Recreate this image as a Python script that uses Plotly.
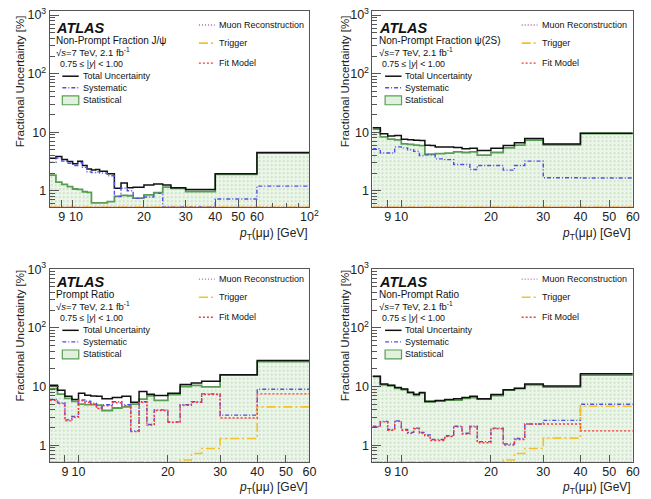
import numpy as np
import plotly.graph_objects as go

# ---------------- data ----------------
EDGES_JPSI = [8, 8.5, 9, 9.5, 10, 10.5, 11, 11.5, 12, 12.5, 13, 14, 15, 16, 17, 18, 20, 22, 24, 26, 30, 40, 60, 100]
EDGES_PSI = [8, 8.5, 9, 9.5, 10, 10.5, 11, 11.5, 12, 12.5, 13, 14, 15, 16, 17, 18, 20, 22, 24, 26, 30, 40, 60]

X_TICKS_JPSI = [9, 10, 20, 30, 40, 50, 60, 100]
X_TICKTEXT_JPSI = ["9", "", "20", "30", "40", "50", "60", "10<sup>2</sup>"]  # "10" drawn separately (offset, as in ROOT)
X_TICKS_PSI = [9, 10, 20, 30, 40, 50, 60]
X_TICKTEXT_PSI = ["9", "10", "20", "30", "40", "50", "60"]
Y_TICKS = [1, 10, 100, 1000]
Y_TICKTEXT = ["1", "10", "10<sup>2</sup>", "10<sup>3</sup>"]

# Panel 1: Non-Prompt Fraction J/psi (23 bins)
NPF_JPSI_TOTAL = [3.6, 3.85, 3.4, 3.15, 2.9, 3.2, 2.7, 2.35, 2.25, 2.3, 2.15, 1.95, 1.1, 1.36, 1.12, 1.15, 1.25, 1.3, 1.25, 1.12, 1.05, 1.95, 4.5]
NPF_JPSI_STAT = [1.84, 1.4, 1.28, 1.17, 1.07, 1.05, 0.96, 0.94, 0.62, 0.62, 0.62, 0.65, 0.8, 0.83, 0.82, 0.75, 0.85, 0.93, 1.15, 1.1, 0.97, 1.9, 4.4]
NPF_JPSI_SYST = [3.05, 3.6, 3.2, 2.95, 2.7, 3.0, 2.5, 2.1, 2.05, 2.1, 2.0, 1.8, 0.8, 1.1, 1.0, 0.74, 0.78, 0.9, 0.53, 0.53, 0.53, 0.72, 1.2]
NPF_JPSI_MUON = [0.3] * 23
NPF_JPSI_TRIG = [0.3] * 23
NPF_JPSI_FIT = [0.3] * 23

# Panel 2: Non-Prompt Fraction psi(2S) (22 bins)
NPF_PSI_TOTAL = [11.9, 9.4, 8.6, 8.8, 7.6, 7.4, 7.3, 7.2, 6.0, 5.9, 5.6, 5.6, 5.45, 5.2, 5.3, 4.85, 5.3, 5.9, 6.6, 7.8, 6.3, 9.6]
NPF_PSI_STAT = [11.3, 8.3, 7.6, 7.4, 6.3, 6.2, 6.0, 5.9, 4.2, 4.2, 4.3, 4.4, 4.6, 4.5, 4.6, 4.05, 4.5, 5.4, 6.0, 7.3, 6.1, 9.5]
NPF_PSI_SYST = [5.2, 4.4, 4.4, 5.6, 5.4, 5.0, 4.7, 4.0, 4.1, 4.1, 3.5, 3.4, 2.8, 2.8, 2.3, 2.7, 2.7, 2.25, 2.7, 3.2, 1.67, 1.65]
NPF_PSI_MUON = [0.3] * 22
NPF_PSI_TRIG = [0.3] * 22
NPF_PSI_FIT = [0.3] * 22

# Panel 3: Prompt Ratio (22 bins)
PR_TOTAL = [10.5, 8.6, 6.8, 6.0, 7.7, 7.1, 6.9, 6.8, 6.2, 6.2, 6.5, 6.8, 5.4, 8.2, 7.4, 7.0, 7.7, 10.8, 11.5, 12.3, 15.9, 27.7]
PR_STAT = [9.2, 7.4, 6.3, 5.6, 5.0, 4.9, 4.9, 4.8, 3.9, 3.9, 4.3, 4.5, 5.0, 6.1, 6.9, 5.8, 7.3, 10.0, 10.5, 9.9, 15.6, 26.5]
PR_SYST = [6.0, 5.3, 2.7, 3.1, 5.9, 5.6, 5.2, 4.3, 4.9, 4.9, 5.5, 4.9, 1.75, 5.5, 2.25, 4.0, 2.5, 4.9, 5.5, 7.5, 3.25, 9.0]
PR_MUON = [0.3] * 22
PR_TRIG = [0.3] * 17 + [0.56, 0.72, 0.88, 1.3, 4.5]
PR_FIT = [5.8, 5.1, 2.6, 3.0, 5.7, 5.4, 5.0, 4.2, 4.7, 4.7, 5.3, 4.7, 1.7, 5.4, 2.2, 3.9, 2.45, 4.8, 5.4, 7.3, 2.9, 7.5]

# Panel 4: Non-Prompt Ratio (22 bins)
NPR_TOTAL = [15.0, 11.0, 10.5, 9.6, 9.1, 8.0, 7.4, 7.9, 5.6, 5.6, 5.8, 6.0, 6.2, 6.5, 6.8, 6.2, 7.3, 8.8, 9.3, 11.0, 10.2, 16.5]
NPR_STAT = [14.8, 10.7, 10.3, 9.3, 8.9, 7.8, 7.1, 7.7, 5.4, 5.45, 5.65, 5.85, 5.85, 6.3, 6.5, 6.1, 7.0, 8.7, 9.2, 10.7, 9.8, 15.7]
NPR_SYST = [2.1, 2.55, 1.85, 2.6, 1.85, 1.65, 1.95, 1.65, 1.5, 1.25, 1.25, 1.45, 2.1, 1.6, 2.1, 1.15, 1.95, 1.05, 1.3, 2.3, 2.65, 5.0]
NPR_MUON = [0.3] * 22
NPR_TRIG = [0.3] * 17 + [0.56, 0.72, 0.88, 1.32, 4.6]
NPR_FIT = [2.05, 2.5, 1.8, 2.55, 1.8, 1.6, 1.9, 1.6, 1.45, 1.2, 1.2, 1.4, 2.05, 1.55, 2.05, 1.1, 1.9, 1.0, 1.25, 2.3, 2.3, 1.75]

PANEL_TITLES = ["Non-Prompt Fraction J/ψ", "Non-Prompt Fraction ψ(2S)", "Prompt Ratio", "Non-Prompt Ratio"]

PANELS = [
    dict(edges=EDGES_JPSI, xt=X_TICKS_JPSI, xtt=X_TICKTEXT_JPSI, total=NPF_JPSI_TOTAL, stat=NPF_JPSI_STAT,
         syst=NPF_JPSI_SYST, muon=NPF_JPSI_MUON, trig=NPF_JPSI_TRIG, fit=NPF_JPSI_FIT),
    dict(edges=EDGES_PSI, xt=X_TICKS_PSI, xtt=X_TICKTEXT_PSI, total=NPF_PSI_TOTAL, stat=NPF_PSI_STAT,
         syst=NPF_PSI_SYST, muon=NPF_PSI_MUON, trig=NPF_PSI_TRIG, fit=NPF_PSI_FIT),
    dict(edges=EDGES_PSI, xt=X_TICKS_PSI, xtt=X_TICKTEXT_PSI, total=PR_TOTAL, stat=PR_STAT,
         syst=PR_SYST, muon=PR_MUON, trig=PR_TRIG, fit=PR_FIT),
    dict(edges=EDGES_PSI, xt=X_TICKS_PSI, xtt=X_TICKTEXT_PSI, total=NPR_TOTAL, stat=NPR_STAT,
         syst=NPR_SYST, muon=NPR_MUON, trig=NPR_TRIG, fit=NPR_FIT),
]

# ---------------- styling / layout ----------------
W, H = 651, 499
FONT = "Liberation Sans, Arial, Helvetica, sans-serif"
FRAMES = [(50.5, 314.3, 3.3, 202.7), (378.3, 642.7, 3.3, 202.7),
          (50.5, 314.3, 265.0, 461.7), (378.3, 642.7, 265.0, 461.7)]
YRANGES = [[-0.286, 3.066], [-0.286, 3.066], [-0.292, 3.008], [-0.292, 3.008]]

C_TOTAL = "#111111"
C_STAT = "#5a9e56"
C_FILL = "#e2f0de"
C_SYST = "#5050e6"
C_MUON = "#b25cb5"
C_TRIG = "#f2c12e"
C_FIT = "#ff3535"
D_SYST = "4px,2px,1px,2px"
D_MUON = "1px,2px"
D_TRIG = "9px,3px,2px,3px"
D_FIT = "2px,2px"

fig = go.Figure()
layout = dict(width=W, height=H, margin=dict(l=0, r=0, t=0, b=0),
              paper_bgcolor="white", plot_bgcolor="white", showlegend=False,
              font=dict(family=FONT, color="#222"))
annotations, shapes = [], []

Y_MINOR = [m * 10 ** d for d in range(-1, 3) for m in range(2, 10) if m * 10 ** d > 0.5]

for i, (p, fr, yr) in enumerate(zip(PANELS, FRAMES, YRANGES)):
    n = "" if i == 0 else str(i + 1)
    xl, xr, yt, yb = fr
    xa, ya = "x" + n, "y" + n
    edges = p["edges"]
    ymin_val = 10 ** yr[0] * 1.005

    def step(vals):
        v = list(np.maximum(np.array(vals, dtype=float), ymin_val))
        return list(edges), v + [v[-1]]

    # statistical fill
    sx, sy = step(p["stat"])
    fig.add_trace(go.Scatter(x=sx + [edges[-1], edges[0]], y=sy + [0.05, 0.05], mode="lines",
                             line=dict(width=0, shape="hv"), fill="toself", fillcolor=C_FILL,
                             fillpattern=dict(shape=".", bgcolor="#edf6ea", fgcolor="#a9cfa3", size=4, solidity=0.25),
                             xaxis=xa, yaxis=ya, hoverinfo="skip"))
    fig.add_trace(go.Scatter(x=sx, y=sy, mode="lines", line=dict(color=C_STAT, width=1.8, shape="hv"),
                             xaxis=xa, yaxis=ya))
    for key, col, dash, wd in [("total", C_TOTAL, "solid", 1.5), ("syst", C_SYST, D_SYST, 1.4),
                               ("muon", C_MUON, D_MUON, 1.4), ("trig", C_TRIG, D_TRIG, 1.6),
                               ("fit", C_FIT, D_FIT, 1.4)]:
        x, y = step(p[key])
        fig.add_trace(go.Scatter(x=x, y=y, mode="lines", line=dict(color=col, width=wd, dash=dash, shape="hv"),
                                 xaxis=xa, yaxis=ya))

    xmax = edges[-1]
    layout["xaxis" + n] = dict(type="log", range=[np.log10(8), np.log10(xmax)],
                               domain=[xl / W, xr / W], anchor=ya,
                               showline=True, mirror=True, linecolor="#555", linewidth=1,
                               showgrid=False, zeroline=False, tickangle=0, ticklabelstandoff=-2,
                               tickmode="array", tickvals=p["xt"], ticktext=p["xtt"],
                               ticks="inside", ticklen=7, tickcolor="#555",
                               minor=dict(tickmode="array", tickvals=[8] + [v for v in [70, 80, 90] if v < xmax],
                                          ticks="inside", ticklen=4, tickcolor="#555"),
                               tickfont=dict(size=12.5, family=FONT, color="#222"))
    layout["yaxis" + n] = dict(type="log", range=yr, domain=[1 - yb / H, 1 - yt / H], anchor=xa,
                               showline=True, mirror=True, linecolor="#555", linewidth=1,
                               showgrid=False, zeroline=False,
                               tickmode="array", tickvals=Y_TICKS, ticktext=Y_TICKTEXT,
                               ticks="inside", ticklen=9, tickcolor="#555",
                               minor=dict(tickmode="array", tickvals=Y_MINOR, ticks="inside", ticklen=5,
                                          tickcolor="#555"),
                               tickfont=dict(size=12.5, family=FONT, color="#222"))

    # ---- text & legend, positioned in pixels relative to the frame ----
    fw, fh = xr - xl, yb - yt
    ref = yt + (yr[1] - 3) / (yr[1] - yr[0]) * fh  # pixel row of 10^3

    def dx(px):
        return px / fw

    def dy(off):
        return (yb - (ref + off)) / fh

    def txt(text, x_off, y_off, size, **kw):
        annotations.append(dict(text=text, xref=xa + " domain", yref=ya + " domain",
                                x=dx(x_off), y=dy(y_off), xanchor="left", yanchor="middle",
                                showarrow=False, font=dict(size=size, family=FONT, color="#111"),
                                borderpad=0, **kw))

    txt("<b><i>ATLAS</i></b>", 5.5, 13.3, 14.5)
    txt(PANEL_TITLES[i], 5.5, 26.0, 10)
    txt("√<i>s</i>=7 TeV, 2.1 fb<sup>-1</sup>", 5.5, 37.8, 9.5)
    txt("0.75 ≤ |<i>y</i>| &lt; 1.00", 9.0, 50.0, 8.8)
    txt("Total Uncertainty", 32.5, 62.1, 9)
    txt("Systematic", 32.5, 73.8, 9)
    txt("Statistical", 32.5, 86.1, 9)
    txt("Muon Reconstruction", 171.0, 10.1, 9)
    txt("Trigger", 171.0, 28.5, 9)
    txt("Fit Model", 171.0, 48.8, 9)

    def lsample(x0, x1, y_off, col, dash, wd):
        shapes.append(dict(type="line", xref=xa + " domain", yref=ya + " domain",
                           x0=dx(x0), x1=dx(x1), y0=dy(y_off), y1=dy(y_off),
                           line=dict(color=col, dash=dash, width=wd)))

    lsample(12.8, 29.5, 62.1, C_TOTAL, "solid", 1.5)
    lsample(12.8, 29.5, 73.8, C_SYST, D_SYST, 1.4)
    lsample(151.5, 167.5, 10.1, C_MUON, D_MUON, 1.4)
    lsample(151.5, 167.5, 28.5, C_TRIG, D_TRIG, 1.6)
    lsample(151.5, 167.5, 48.8, C_FIT, D_FIT, 1.4)
    shapes.append(dict(type="rect", xref=xa + " domain", yref=ya + " domain",
                       x0=dx(12.8), x1=dx(29.5), y0=dy(91.1), y1=dy(82.1),
                       fillcolor=C_FILL, line=dict(color=C_STAT, width=1.2)))

    # shifted "10" label for the crowded J/psi axis
    if i == 0:
        annotations.append(dict(text="10", xref=xa, yref="paper", x=np.log10(10), y=1 - 212.0 / H,
                                xanchor="center", yanchor="middle", xshift=3, showarrow=False, borderpad=0,
                                font=dict(size=12.5, family=FONT, color="#222")))

    # axis titles
    ytx = 20 if i in (0, 2) else 350
    annotations.append(dict(text="Fractional Uncertainty [%]", xref="paper", yref="paper",
                            x=ytx / W, y=1 - (ref - 0.5) / H, xanchor="center", yanchor="top",
                            textangle=-90, showarrow=False, borderpad=0,
                            font=dict(size=11.5, family=FONT, color="#222")))
    xty = 229.5 if i < 2 else 487.8
    annotations.append(dict(text="<i>p</i><sub>T</sub>(μμ) [GeV]", xref="paper", yref="paper",
                            x=(xr - 0.5) / W, y=1 - xty / H, xanchor="right", yanchor="middle",
                            showarrow=False, borderpad=0,
                            font=dict(size=12, family=FONT, color="#222")))

layout["annotations"] = annotations
layout["shapes"] = shapes
fig.update_layout(**layout)
fig.write_html("out.html")
